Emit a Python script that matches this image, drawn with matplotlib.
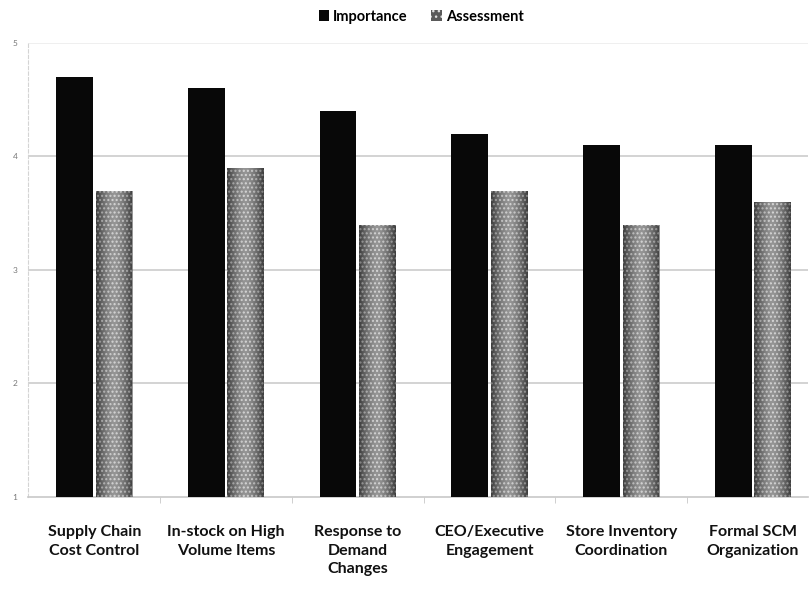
import numpy as np
import matplotlib.pyplot as plt
from matplotlib.patches import Patch

categories = ["Supply Chain\nCost Control", "In-stock on High\nVolume Items",
              "Response to\nDemand\nChanges", "CEO/Executive\nEngagement",
              "Store Inventory\nCoordination", "Formal SCM\nOrganization"]
importance = [4.7, 4.6, 4.4, 4.2, 4.1, 4.1]
assessment = [3.7, 3.9, 3.4, 3.7, 3.4, 3.6]
y_ticks = [1, 2, 3, 4, 5]

plt.rcParams['font.family'] = ['Liberation Sans Narrow', 'Lato', 'DejaVu Sans']
plt.rcParams['hatch.linewidth'] = 1.0

fig = plt.figure(figsize=(8.1, 5.9), dpi=100)
ax = fig.add_axes([0.035, 0.158, 0.963, 0.769])

x = np.arange(len(categories))
w = 0.28
ax.bar(x - 0.15, importance, w, bottom=0, color='#080808', zorder=3)
bars = ax.bar(x + 0.15, assessment, w, bottom=0, color='#3c3c3c',
              edgecolor='#d0d0d0', hatch='....', linewidth=0, zorder=3)

# soft shading across each assessment bar: darker sides, lighter middle
shade = np.abs(np.linspace(-1, 1, 64))[None, :] ** 1.5
for b in bars:
    x0, w0 = b.get_x(), b.get_width()
    im = ax.imshow(shade, cmap='gray_r', vmin=-0.2, vmax=1.4, alpha=0.55,
                   extent=[x0, x0 + w0, 1, b.get_height()], aspect='auto',
                   zorder=4)
    im.set_clip_path(b)

ax.set_xlim(-0.5, 5.42)
ax.set_ylim(1, 5)
ax.set_yticks(y_ticks)
ax.set_yticklabels([str(v) for v in y_ticks], fontsize=6, color='#777777')
ax.tick_params(axis='y', length=0, pad=8)
for v in y_ticks[1:]:
    ax.axhline(v, color='#ececec' if v == 5 else '#cccccc', linewidth=1.2, zorder=0)
ax.set_xticks(x)
ax.set_xticklabels(categories, fontsize=11.5, fontweight='bold', color='#111111',
                   linespacing=1.45)
ax.tick_params(axis='x', length=0, pad=20)
ax.set_xticks(np.arange(0.5, 5.5, 1), minor=True)
ax.tick_params(axis='x', which='minor', length=4, color='#c8c8c8', direction='out')

for s in ['top', 'right']:
    ax.spines[s].set_visible(False)
ax.spines['left'].set_color('#d4d4d4')
ax.spines['left'].set_linestyle((0, (3, 2)))
ax.spines['bottom'].set_color('#c8c8c8')
ax.spines['bottom'].set_linewidth(1.2)

handles = [Patch(facecolor='#080808', label='Importance'),
           Patch(facecolor='#5a5a5a', edgecolor='#e0e0e0', hatch='...',
                 linewidth=0, label='Assessment')]
fig.legend(handles=handles, loc='center', bbox_to_anchor=(0.52, 0.972), ncol=2,
           frameon=False, handlelength=0.7, handleheight=0.7,
           handletextpad=0.3, columnspacing=1.6,
           prop={'weight': 'bold', 'size': 10.5})

fig.savefig('out.png', dpi=100)
